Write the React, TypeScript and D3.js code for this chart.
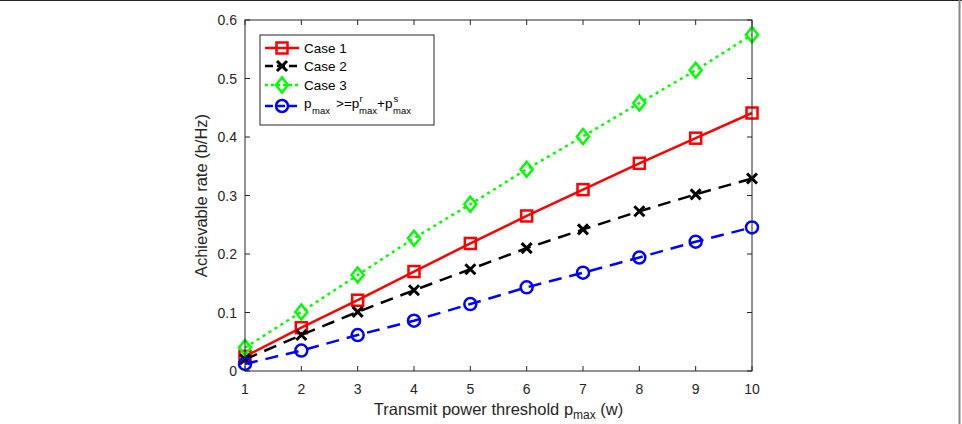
import React from 'react';
import * as d3 from 'd3';

const powers = [1, 2, 3, 4, 5, 6, 7, 8, 9, 10];
const case1 = [0.025, 0.074, 0.121, 0.17, 0.218, 0.265, 0.31, 0.355, 0.398, 0.441];
const case2 = [0.02, 0.0615, 0.101, 0.138, 0.174, 0.21, 0.242, 0.273, 0.302, 0.329];
const case3 = [0.04, 0.101, 0.164, 0.227, 0.285, 0.345, 0.401, 0.458, 0.514, 0.575];
const case4 = [0.012, 0.035, 0.0615, 0.086, 0.1145, 0.143, 0.168, 0.194, 0.221, 0.2455];
const yTicks = [0, 0.1, 0.2, 0.3, 0.4, 0.5, 0.6];

const series = [
    { name: 'Case 1', values: case1, color: '#ff0000', dash: '', legendDash: '', marker: 'square' },
    { name: 'Case 2', values: case2, color: '#000000', dash: '13,8', legendDash: '8,4', marker: 'x' },
    { name: 'Case 3', values: case3, color: '#00ff00', dash: '3,4', legendDash: '3,3', marker: 'diamond' },
    { name: 'p4', values: case4, color: '#0000ff', dash: '13,8', legendDash: '8,4', marker: 'circle' },
];

const font = '"Liberation Sans", Arial, Helvetica, sans-serif';

const Marker = ({ type, x, y, color }: { type: string; x: number; y: number; color: string }) => {
    const common = { fill: 'none', stroke: color, strokeWidth: 2.5 };
    if (type === 'square') return <rect x={x - 5.5} y={y - 5.5} width={11} height={11} {...common} />;
    if (type === 'circle') return <circle cx={x} cy={y} r={6} {...common} />;
    if (type === 'diamond')
        return <path d={`M${x},${y - 7.5}L${x + 6},${y}L${x},${y + 7.5}L${x - 6},${y}Z`} {...common} />;
    return <path d={`M${x - 5},${y - 5}L${x + 5},${y + 5}M${x - 5},${y + 5}L${x + 5},${y - 5}`} {...common} strokeWidth={3} />;
};

const App = () => {
    const width = 962;
    const height = 424;
    const margin = { top: 20, right: 210, bottom: 53, left: 245 };
    const x = d3.scaleLinear().domain([1, 10]).range([margin.left, width - margin.right]);
    const y = d3.scaleLinear().domain([0, 0.6]).range([height - margin.bottom, margin.top]);
    const x0 = x.range()[0], x1 = x.range()[1], y0 = y.range()[0], y1 = y.range()[1];

    const line = d3.line<number>().x((_, i) => x(powers[i])).y(d => y(d));
    const tick = 5;

    const legend = { x: 260, y: 35, w: 174, h: 90 };
    const rows = [48, 66, 85, 106];
    const r4 = rows[3];

    return (
        <svg width={width} height={height} style={{ position: 'absolute', left: 0, top: 0, background: '#fff' }} fontFamily={font}>
            <line x1={0} x2={width} y1={0.5} y2={0.5} stroke="#222" />
            <line x1={959.5} x2={959.5} y1={0} y2={height} stroke="#888" strokeWidth={2} />

            {/* data lines */}
            <g clipPath="url(#clip)">
                {series.map(s => (
                    <g key={s.name}>
                        <path d={line(s.values) || ''} fill="none" stroke={s.color} strokeWidth={2.5} strokeDasharray={s.dash} />
                        {s.values.map((v, i) => (
                            <Marker key={i} type={s.marker} x={x(powers[i])} y={y(v)} color={s.color} />
                        ))}
                    </g>
                ))}
            </g>

            {/* axes box */}
            <rect x={x0} y={y1} width={x1 - x0} height={y0 - y1} fill="none" stroke="#262626" strokeWidth={1} />
            {powers.map(p => (
                <g key={p}>
                    <line x1={x(p)} x2={x(p)} y1={y0} y2={y0 - tick} stroke="#262626" />
                    <line x1={x(p)} x2={x(p)} y1={y1} y2={y1 + tick} stroke="#262626" />
                    <text x={x(p)} y={y0 + 23} textAnchor="middle" fontSize={14} fill="#262626">{p}</text>
                </g>
            ))}
            {yTicks.map(t => (
                <g key={t}>
                    <line x1={x0} x2={x0 + tick} y1={y(t)} y2={y(t)} stroke="#262626" />
                    <line x1={x1} x2={x1 - tick} y1={y(t)} y2={y(t)} stroke="#262626" />
                    <text x={x0 - 8} y={y(t) + 5} textAnchor="end" fontSize={14} fill="#262626">{t}</text>
                </g>
            ))}

            {/* axis labels */}
            <text x={(x0 + x1) / 2} y={415} textAnchor="middle" fontSize={16.5} fill="#262626">
                Transmit power threshold p<tspan fontSize={12} dy={4}>max</tspan><tspan dy={-4}> (w)</tspan>
            </text>
            <text transform={`translate(207,${(y0 + y1) / 2}) rotate(-90)`} textAnchor="middle" fontSize={16.5} fill="#262626">
                Achievable rate (b/Hz)
            </text>

            {/* legend */}
            <rect x={legend.x} y={legend.y} width={legend.w} height={legend.h} fill="#fff" stroke="#262626" />
            {series.map((s, i) => (
                <g key={s.name}>
                    <line x1={265} x2={299} y1={rows[i]} y2={rows[i]} stroke={s.color} strokeWidth={2.5} strokeDasharray={s.legendDash} />
                    <Marker type={s.marker} x={282} y={rows[i]} color={s.color} />
                    {i < 3 && <text x={304} y={rows[i] + 5} fontSize={13.5} fill="#000">{s.name}</text>}
                </g>
            ))}
            <g fontSize={13.5} fill="#000">
                <text x={304} y={r4 + 2}>p</text>
                <text x={312} y={r4 + 8} fontSize={9.5}>max</text>
                <text x={336} y={r4 + 2}>&gt;=p</text>
                <text x={359.5} y={r4 - 4} fontSize={9.5}>r</text>
                <text x={359} y={r4 + 8} fontSize={9.5}>max</text>
                <text x={377} y={r4 + 2}>+p</text>
                <text x={393.5} y={r4 - 4} fontSize={9.5}>s</text>
                <text x={393} y={r4 + 8} fontSize={9.5}>max</text>
            </g>

            <defs>
                <clipPath id="clip">
                    <rect x={x0 - 10} y={y1 - 10} width={x1 - x0 + 20} height={y0 - y1 + 20} />
                </clipPath>
            </defs>
        </svg>
    );
};

export default App;
